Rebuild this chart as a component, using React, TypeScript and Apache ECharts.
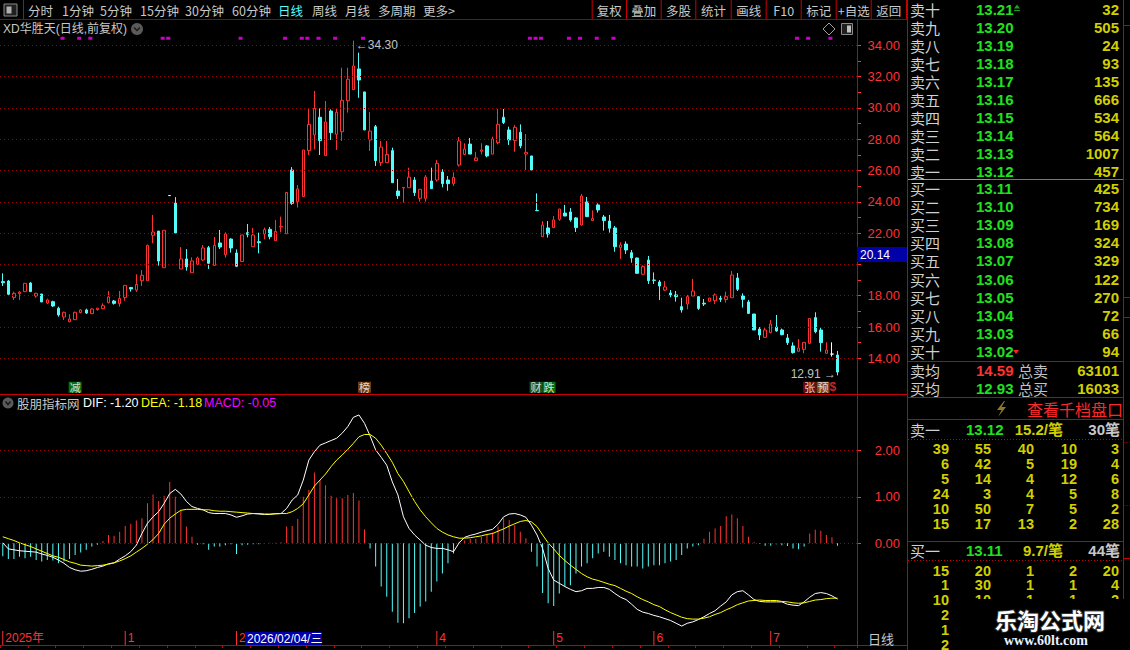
import React, { useEffect, useRef } from "react";
import * as echarts from "echarts";

const NUM = "'Liberation Sans', 'Noto Sans CJK SC', sans-serif";
const CJK = "'Noto Sans CJK SC', 'Liberation Sans', sans-serif";

// ---------- candle data (151 trading days) ----------
const opens = [
  18.90,18.94,17.89,18.13,18.26,18.81,17.98,18.11,17.53,17.62,
  17.20,16.64,16.34,16.47,16.92,17.09,16.85,17.11,17.17,17.55,
  17.66,17.49,17.89,18.53,18.36,18.96,18.96,21.86,22.13,19.79,
  24.40,23.92,19.71,20.35,19.47,20.00,20.28,21.07,19.94,21.37,
  20.62,21.62,20.73,20.18,22.03,21.13,21.45,21.94,22.24,21.52,
  22.39,21.96,26.03,24.01,24.33,27.27,28.27,29.40,26.95,29.80,
  28.31,28.48,30.46,31.17,32.49,31.02,27.95,28.80,26.50,26.50,
  27.27,24.69,24.88,24.90,25.39,24.22,24.22,25.33,25.39,25.90,
  25.39,25.16,26.35,27.03,27.69,26.63,27.23,27.57,27.05,27.78,
  29.40,28.59,27.91,28.44,27.05,26.93,23.45,21.77,22.33,22.35,
  22.88,23.28,23.35,22.97,22.52,23.99,22.80,23.80,23.03,22.77,
  22.33,21.07,21.30,20.75,20.41,19.37,20.28,19.00,18.88,18.36,
  18.17,18.05,17.30,17.47,17.98,17.94,17.52,17.64,17.68,17.83,
  17.75,17.87,19.13,17.98,17.60,16.83,15.87,15.34,15.64,16.00,
  15.81,15.30,14.79,14.45,14.57,14.96,16.60,15.81,14.32,14.27,
  14.21,
];
const closes = [
  18.83,18.09,18.15,18.23,18.79,18.26,18.15,17.60,17.73,17.34,
  16.77,16.94,16.51,16.94,17.09,16.89,17.15,17.21,17.36,17.92,
  17.51,17.83,18.66,18.43,18.72,19.30,21.22,22.07,20.22,22.18,
  24.40,22.01,20.35,19.84,20.22,20.41,21.05,20.07,21.22,21.11,
  21.94,21.05,19.88,21.88,21.92,21.88,21.39,22.22,21.77,22.11,
  22.43,24.60,23.90,24.82,27.31,28.95,29.97,27.91,29.10,28.42,
  29.72,30.48,31.83,32.68,31.78,28.59,28.52,26.63,27.50,27.03,
  25.22,24.39,24.92,25.58,24.58,24.80,25.58,24.84,26.46,25.16,
  25.16,25.56,27.89,27.37,27.05,26.80,27.31,26.93,28.01,28.95,
  29.06,27.95,28.76,27.57,27.16,26.03,23.43,22.52,21.94,22.84,
  23.54,23.09,22.84,22.35,24.37,23.05,22.94,23.48,22.80,22.31,
  21.13,21.24,20.92,20.41,19.43,19.86,18.96,18.98,18.62,18.56,
  18.05,17.94,17.09,17.94,18.30,17.19,17.47,17.85,18.05,17.77,
  17.94,19.32,18.41,17.77,16.87,15.81,15.49,15.81,16.19,15.75,
  15.51,15.00,14.36,14.66,15.02,16.55,15.70,15.00,14.53,14.27,
  13.12,
];
const lows = [
  18.62,18.04,17.73,17.73,18.26,18.24,17.87,17.60,17.47,17.28,
  16.66,16.45,16.30,16.45,16.87,16.83,16.83,17.05,17.13,17.51,
  17.43,17.30,17.68,18.26,18.24,18.62,18.96,21.35,19.92,19.79,
  24.40,22.01,19.71,19.60,19.47,19.98,20.22,19.71,19.90,20.98,
  20.43,20.75,19.83,20.18,21.73,21.13,20.71,21.60,21.60,21.52,
  22.05,21.96,23.80,23.63,24.33,26.99,27.35,26.99,26.95,27.95,
  27.31,27.89,29.70,31.17,30.65,28.59,27.25,26.29,26.29,26.50,
  25.22,24.18,23.95,24.90,24.37,24.01,24.01,24.84,25.29,24.93,
  24.71,25.01,26.25,26.99,27.05,26.63,27.03,26.84,27.05,27.67,
  28.97,27.63,27.20,27.42,26.03,26.03,23.43,21.77,21.71,22.35,
  22.79,23.09,22.73,22.07,22.48,23.05,22.80,23.31,22.16,22.03,
  20.81,20.35,20.67,20.11,19.41,19.32,18.75,18.75,17.72,18.30,
  17.90,17.62,16.92,17.13,17.98,17.09,17.34,17.64,17.47,17.60,
  17.56,17.87,18.30,17.24,16.83,15.81,15.17,15.30,15.60,15.70,
  15.47,14.85,14.30,14.45,14.32,14.90,15.60,14.43,14.32,14.11,
  12.91,
];
const highs = [
  19.43,19.00,18.26,18.30,18.79,18.87,18.19,18.11,17.81,17.68,
  17.30,16.98,16.81,16.98,17.15,17.17,17.20,17.21,17.51,18.30,
  17.73,18.30,18.68,18.53,19.37,19.64,21.26,23.16,22.13,22.18,
  24.40,24.30,21.11,20.98,20.45,20.50,21.24,21.18,21.75,22.20,
  22.05,21.67,20.96,21.88,22.58,22.33,22.03,22.35,22.39,22.84,
  23.05,24.60,26.22,25.07,27.31,29.93,31.08,29.97,30.44,29.91,
  29.97,32.57,32.57,34.30,33.53,31.02,29.74,28.91,27.89,27.89,
  27.46,25.46,24.92,26.18,25.58,24.80,25.71,26.18,26.67,26.08,
  25.65,25.88,28.14,27.74,28.08,27.20,27.74,27.63,28.16,29.93,
  29.93,28.80,28.91,28.95,28.33,26.93,24.54,22.77,22.77,23.09,
  23.54,23.80,23.60,23.03,24.50,24.31,23.45,23.90,23.16,23.16,
  22.45,21.41,21.47,20.92,20.43,19.94,20.54,19.49,19.00,18.94,
  18.36,18.30,17.87,18.05,19.07,17.98,17.79,17.85,18.15,18.00,
  18.26,19.58,19.45,18.15,17.73,16.83,16.00,16.00,16.45,16.77,
  15.90,15.55,15.02,15.23,15.02,16.55,16.94,16.00,15.02,15.02,
  14.47,
];

// ---------- MACD indicator ----------
const dif = [
  0.01,-0.12,-0.14,-0.16,-0.17,-0.18,-0.19,-0.23,-0.26,-0.30,
  -0.36,-0.43,-0.52,-0.57,-0.60,-0.59,-0.56,-0.52,-0.49,-0.44,
  -0.42,-0.34,-0.27,-0.18,-0.04,0.21,0.43,0.57,0.68,0.86,
  1.07,1.16,1.06,0.90,0.79,0.75,0.72,0.66,0.64,0.64,
  0.64,0.61,0.56,0.59,0.63,0.64,0.63,0.62,0.62,0.64,
  0.64,0.75,0.93,1.04,1.36,1.79,1.97,2.11,2.16,2.21,
  2.26,2.37,2.51,2.71,2.76,2.58,2.31,2.01,1.85,1.68,
  1.32,1.04,0.57,0.32,0.18,0.07,-0.04,-0.09,-0.11,-0.11,
  -0.14,-0.18,0.01,0.13,0.17,0.20,0.24,0.27,0.30,0.41,
  0.57,0.63,0.64,0.61,0.56,0.39,0.18,-0.11,-0.54,-0.79,
  -0.86,-0.93,-0.99,-1.04,-1.02,-0.97,-0.97,-0.95,-0.95,-0.99,
  -1.08,-1.16,-1.21,-1.31,-1.42,-1.48,-1.51,-1.55,-1.58,-1.62,
  -1.66,-1.72,-1.78,-1.72,-1.69,-1.64,-1.58,-1.51,-1.45,-1.35,
  -1.26,-1.11,-1.04,-1.02,-1.11,-1.21,-1.25,-1.26,-1.26,-1.26,
  -1.26,-1.31,-1.33,-1.34,-1.26,-1.16,-1.08,-1.06,-1.08,-1.13,
  -1.20,
];
const dea = [
  0.14,0.10,0.06,0.01,-0.03,-0.07,-0.12,-0.17,-0.22,-0.27,
  -0.30,-0.35,-0.40,-0.43,-0.47,-0.48,-0.49,-0.48,-0.47,-0.45,
  -0.42,-0.38,-0.33,-0.27,-0.19,-0.11,-0.02,0.08,0.21,0.41,
  0.54,0.63,0.71,0.73,0.73,0.73,0.72,0.72,0.70,0.69,
  0.69,0.68,0.67,0.66,0.65,0.64,0.64,0.63,0.63,0.63,
  0.64,0.64,0.68,0.75,0.85,1.04,1.23,1.36,1.49,1.65,
  1.79,1.90,2.02,2.15,2.29,2.34,2.34,2.26,2.11,1.93,
  1.74,1.50,1.33,1.11,0.90,0.72,0.57,0.44,0.32,0.24,
  0.18,0.14,0.11,0.11,0.12,0.14,0.16,0.19,0.21,0.26,
  0.31,0.37,0.42,0.47,0.49,0.46,0.36,0.18,0.01,-0.12,
  -0.26,-0.37,-0.47,-0.56,-0.65,-0.72,-0.77,-0.80,-0.84,-0.88,
  -0.91,-0.97,-1.03,-1.08,-1.15,-1.21,-1.26,-1.32,-1.36,-1.43,
  -1.49,-1.54,-1.59,-1.62,-1.63,-1.63,-1.61,-1.58,-1.53,-1.49,
  -1.43,-1.38,-1.32,-1.28,-1.24,-1.23,-1.22,-1.23,-1.23,-1.23,
  -1.25,-1.26,-1.28,-1.29,-1.28,-1.25,-1.22,-1.21,-1.19,-1.18,
  -1.18,
];
const macd = [
  -0.28,-0.34,-0.34,-0.29,-0.32,-0.29,-0.36,-0.39,-0.36,-0.37,
  -0.43,-0.39,-0.34,-0.25,-0.20,-0.14,-0.07,-0.03,0.05,0.18,
  0.16,0.25,0.37,0.42,0.49,0.54,0.86,1.05,0.91,1.02,
  1.32,1.00,0.72,0.36,0.14,-0.03,-0.02,-0.14,-0.07,-0.07,
  -0.04,-0.02,-0.23,-0.04,-0.03,-0.02,-0.02,-0.01,0.01,0.01,
  0.02,0.36,0.37,0.52,1.00,1.15,1.52,1.36,1.25,1.02,
  0.97,0.97,1.04,1.08,0.92,0.30,-0.11,-0.50,-0.93,-1.15,
  -1.47,-1.71,-1.72,-1.61,-1.50,-1.36,-1.25,-1.04,-0.82,-0.65,
  -0.43,-0.22,0.04,0.06,0.09,0.09,0.14,0.18,0.23,0.36,
  0.54,0.50,0.39,0.25,0.11,-0.18,-0.50,-1.07,-1.29,-1.35,
  -1.08,-0.93,-0.90,-0.65,-0.50,-0.43,-0.32,-0.22,-0.18,-0.29,
  -0.36,-0.43,-0.47,-0.50,-0.50,-0.54,-0.50,-0.47,-0.47,-0.43,
  -0.39,-0.36,-0.25,-0.11,-0.07,-0.04,0.10,0.25,0.32,0.37,
  0.58,0.62,0.54,0.37,0.14,0.02,-0.01,-0.05,-0.05,-0.02,
  -0.04,-0.06,-0.11,-0.13,-0.07,0.21,0.29,0.27,0.18,0.13,
  -0.05,
];

// ---------- axes / markers ----------
const SLOTS = 154; // 151 candles + 3 empty slots before the price axis
const categories = Array.from({ length: SLOTS }, (_, i) => "K" + (i + 1));
const priceTicks = [14, 16, 18, 20, 22, 24, 26, 28, 30, 32, 34];
const cursorPrice = 20.14; // price shown in the cursor box, hides the nearby tick label
const macdTicks = [0, 1, 2];
const monthIdx = [0, 22, 42, 78, 99, 117, 138];
const monthText = ["2025年", "1", "2", "4", "5", "6", "7"];
const dotIdx = [11, 14, 16, 29, 30, 43, 51, 54, 55, 57, 60, 65, 95, 96, 97, 102, 104, 107, 110, 143, 145, 149];
const eventIdx = [13, 65, 97, 145, 148];
const eventText = ["{g|减}", "{b|榜}", "{c|财}{g|跌}", "{r|张}", "{o|预}{d|$}"];

// ---------- order book ----------
const askLabels = ["卖十", "卖九", "卖八", "卖七", "卖六", "卖五", "卖四", "卖三", "卖二", "卖一"];
const askPrices = [13.21, 13.2, 13.19, 13.18, 13.17, 13.16, 13.15, 13.14, 13.13, 13.12];
const askVols = [32, 505, 24, 93, 135, 666, 534, 564, 1007, 457];
const bidLabels = ["买一", "买二", "买三", "买四", "买五", "买六", "买七", "买八", "买九", "买十"];
const bidPrices = [13.11, 13.1, 13.09, 13.08, 13.07, 13.06, 13.05, 13.04, 13.03, 13.02];
const bidVols = [425, 734, 169, 324, 329, 122, 270, 72, 66, 94];
const sellQueue = [
  [39, 55, 40, 10, 3],
  [6, 42, 5, 19, 4],
  [5, 14, 4, 12, 6],
  [24, 3, 4, 5, 8],
  [10, 50, 7, 5, 2],
  [15, 17, 13, 2, 28],
];
const buyQueue = [
  [15, 20, 1, 2, 20],
  [1, 30, 1, 1, 4],
  [10, 10, 1, 1, 2],
  [2],
  [1],
  [2],
];
const leftTabs = ["分时", "1分钟", "5分钟", "15分钟", "30分钟", "60分钟", "日线", "周线", "月线", "多周期", "更多>"];
const leftTabX = [28, 62, 100, 140, 185, 232, 278, 312, 345, 378, 423];
const rightTabs = ["复权", "叠加", "多股", "统计", "画线", "F10", "标记", "+自选", "返回"];
const rightSep = [591.7, 626, 660.7, 695.3, 730.7, 765.7, 800.7, 835.7, 870.7, 906];

const RED = "#ff3232";
const CYAN = "#54fcfc";
const BORDER = "#c80000";
const GRID = "#a00000";

function buildGraphic() {
  const g: any[] = [];
  const txt = (x: number, y: number, text: string, fill: string, size: number, o: any = {}) =>
    g.push({
      type: "text", x, y, z: o.z ?? 20, silent: true,
      style: {
        text, fill,
        font: `${o.weight || "normal"} ${size}px ${o.family || NUM}`,
        align: o.align || "left", verticalAlign: "middle",
        textAlign: o.align || "left", textVerticalAlign: "middle",
        stroke: o.stroke, lineWidth: o.lineWidth || 0,
      },
    });
  const ln = (x1: number, y1: number, x2: number, y2: number, stroke: string, dash?: number[], z = 15) =>
    g.push({ type: "line", z, silent: true, shape: { x1, y1, x2, y2 }, style: { stroke, lineWidth: 1, lineDash: dash } });
  const rc = (x: number, y: number, w: number, h: number, fill: string, stroke?: string, z = 12) =>
    g.push({ type: "rect", z, silent: true, shape: { x, y, width: w, height: h }, style: { fill, stroke: stroke || "none", lineWidth: stroke ? 1 : 0 } });

  // ---- toolbar ----
  rc(4, 4, 13, 12, "#202020", "#8a8a8a");
  rc(6.5, 6.5, 5, 7, "#b0b0b0");
  ln(23.5, 0, 23.5, 19, BORDER);
  leftTabs.forEach((t, k) => txt(leftTabX[k], 10, t, t === "日线" ? CYAN : "#c8c8c8", 12.5, { family: CJK }));
  rightSep.forEach((x) => ln(x + 0.5, 0, x + 0.5, 19, BORDER));
  rightTabs.forEach((t, k) => txt((rightSep[k] + rightSep[k + 1]) / 2 + 0.5, 10, t, "#c8c8c8", 12.5, { family: CJK, align: "center" }));
  ln(0, 19.5, 907, 19.5, GRID);

  // ---- title row ----
  txt(3, 29, "XD华胜天(日线,前复权)", "#c8c8c8", 12);
  g.push({ type: "circle", z: 20, silent: true, shape: { cx: 137, cy: 29, r: 6 }, style: { fill: "#5a5a5a" } });
  g.push({ type: "polyline", z: 21, silent: true, shape: { points: [[134, 27.5], [137, 30.5], [140, 27.5]] }, style: { stroke: "#1a1a1a", lineWidth: 1.5, fill: "none" } });
  g.push({ type: "polygon", z: 20, silent: true, shape: { points: [[829, 23], [835, 29], [829, 35], [823, 29]] }, style: { stroke: "#a0a0a0", fill: "none", lineWidth: 1 } });
  rc(841.5, 23.5, 11, 11, "#202020", "#8a8a8a");
  rc(847, 25.5, 4, 7, "#c0c0c0");

  // ---- panel borders ----
  ln(857.5, 19.5, 857.5, 646, BORDER);
  ln(0, 394.5, 907, 394.5, BORDER);
  ln(0, 645.5, 907, 645.5, BORDER);

  // price cursor box
  rc(857, 247, 50, 15, "#0000a8", undefined, 25);
  txt(860, 254.5, cursorPrice.toFixed(2), "#ffffff", 12, { z: 26 });

  // ---- MACD title ----
  g.push({ type: "circle", z: 20, silent: true, shape: { cx: 8, cy: 403, r: 5.5 }, style: { fill: "#5a5a5a" } });
  g.push({ type: "polyline", z: 21, silent: true, shape: { points: [[5.5, 401.5], [8, 404.5], [10.5, 401.5]] }, style: { stroke: "#1a1a1a", lineWidth: 1.5, fill: "none" } });
  txt(17, 403, "股朋指标网", "#c8c8c8", 12.5, { family: CJK });
  txt(83, 403, "DIF: " + dif[dif.length - 1].toFixed(2), "#ffffff", 12.5);
  txt(141, 403, "DEA: " + dea[dea.length - 1].toFixed(2), "#ffff00", 12.5);
  txt(204, 403, "MACD: " + macd[macd.length - 1].toFixed(2), "#ff00ff", 12.5);

  // ---- date bar ----
  rc(245, 632, 77, 13, "#0000a8", undefined, 25);
  txt(247, 638.5, "2026/02/04/三", "#ffffff", 12, { z: 26 });
  txt(868, 638.5, "日线", "#c8c8c8", 13, { family: CJK });

  // ---- right panel ----
  ln(907.5, 0, 907.5, 650, BORDER);
  ln(1123.5, 0, 1123.5, 650, BORDER);
  ln(1123.5, 25.5, 1130, 25.5, BORDER);
  ln(1123.5, 297.5, 1130, 297.5, BORDER);
  ln(1123.5, 317.5, 1130, 317.5, BORDER);
  ln(1123.5, 442.5, 1130, 442.5, BORDER, [1, 2]);
  ln(1123.5, 505.5, 1130, 505.5, BORDER, [1, 2]);
  ln(1123.5, 558.5, 1130, 558.5, BORDER);

  askLabels.forEach((lab, k) => {
    const y = 9 + k * 18.03;
    txt(910, y, lab, "#d0d0d0", 15, { family: CJK });
    txt(976, y, askPrices[k].toFixed(2), "#20e020", 15, { weight: "bold" });
    txt(1119, y, String(askVols[k]), "#d0d000", 15, { weight: "bold", align: "right" });
  });
  g.push({ type: "polygon", z: 20, silent: true, shape: { points: [[1014, 8.5], [1017, 4.5], [1020, 8.5]] }, style: { fill: "#20a020" } });
  ln(1014, 10.5, 1020, 10.5, "#20a020");
  ln(908, 179.5, 990, 179.5, "#d09040", undefined, 16);
  ln(990, 179.5, 1123, 179.5, "#4a80c0", undefined, 16);
  bidLabels.forEach((lab, k) => {
    const y = 188.3 + k * 18.15;
    txt(910, y, lab, "#d0d0d0", 15, { family: CJK });
    txt(976, y, bidPrices[k].toFixed(2), "#20e020", 15, { weight: "bold" });
    txt(1119, y, String(bidVols[k]), "#d0d000", 15, { weight: "bold", align: "right" });
  });
  g.push({ type: "polygon", z: 20, silent: true, shape: { points: [[1013, 350], [1019, 350], [1016, 354]] }, style: { fill: "#ff2020" } });
  ln(908, 361.5, 1123, 361.5, BORDER);
  txt(910, 370.5, "卖均", "#d0d0d0", 15, { family: CJK });
  txt(976, 370.5, "14.59", "#ff3232", 15, { weight: "bold" });
  txt(1018, 370.5, "总卖", "#c0c0c0", 15, { family: CJK });
  txt(1119, 370.5, "63101", "#d0d000", 15, { weight: "bold", align: "right" });
  txt(910, 388.5, "买均", "#d0d0d0", 15, { family: CJK });
  txt(976, 388.5, "12.93", "#20e020", 15, { weight: "bold" });
  txt(1018, 388.5, "总买", "#c0c0c0", 15, { family: CJK });
  txt(1119, 388.5, "16033", "#d0d000", 15, { weight: "bold", align: "right" });
  ln(908, 397.5, 1123, 397.5, BORDER);
  g.push({ type: "polygon", z: 20, silent: true, shape: { points: [[1004, 401], [997, 410], [1001.5, 410], [998, 417], [1006, 407], [1001.5, 407], [1005, 401]] }, style: { fill: "#8c7a2a" } });
  txt(1027, 409, "查看千档盘口", "#ff2828", 16, { family: CJK });
  ln(908, 419.5, 1123, 419.5, BORDER);

  const qCols = [949, 991, 1034, 1077, 1119];
  txt(910, 429, "卖一", "#d0d0d0", 15, { family: CJK });
  txt(966, 429, "13.12", "#20e020", 15, { weight: "bold" });
  txt(1063, 429, "15.2/笔", "#d0d000", 15, { weight: "bold", align: "right" });
  txt(1120, 429, "30笔", "#c8c8c8", 15, { weight: "bold", align: "right" });
  ln(908, 439.5, 1123, 439.5, BORDER, [1, 2]);
  sellQueue.forEach((row, r) => row.forEach((v, c) => txt(qCols[c], 448.5 + r * 15, String(v), "#d0d000", 14.5, { weight: "bold", align: "right" })));
  ln(908, 541.5, 1123, 541.5, BORDER);
  txt(910, 550, "买一", "#d0d0d0", 15, { family: CJK });
  txt(966, 550, "13.11", "#20e020", 15, { weight: "bold" });
  txt(1063, 550, "9.7/笔", "#d0d000", 15, { weight: "bold", align: "right" });
  txt(1120, 550, "44笔", "#c8c8c8", 15, { weight: "bold", align: "right" });
  ln(908, 560.5, 1123, 560.5, BORDER, [1, 2]);
  buyQueue.forEach((row, r) => row.forEach((v, c) => txt(qCols[c], 570.5 + r * 14.8, String(v), "#d0d000", 14.5, { weight: "bold", align: "right" })));

  // watermark
  rc(962, 599, 168, 51, "#000000", undefined, 30);
  txt(1050, 619, "乐淘公式网", "#ffffff", 22, { family: CJK, weight: "bold", align: "center", z: 31, stroke: "#303030", lineWidth: 2 });
  txt(1046, 640.5, "www.60lt.com", "#e8f0ff", 14, { family: "'Liberation Serif', 'DejaVu Serif', serif", weight: "bold", align: "center", z: 31 });

  return g;
}

function buildOption() {
  const candleData = opens.map((o, i) => [o, closes[i], lows[i], highs[i]]);
  const hiIdx = highs.indexOf(Math.max(...highs));
  const loIdx = lows.indexOf(Math.min(...lows));
  const priceMinor = priceTicks.flatMap((v) => (v < 34 ? [v, v + 1] : [v]));
  const priceLabels = priceTicks.filter((v) => Math.abs(v - cursorPrice) > 1);
  const monthBars = categories.map((_, i) => (monthIdx.includes(i) ? 1 : null));
  const dashed = { color: GRID, type: [1, 3], width: 1 };
  const chip = (bg: string) => ({ backgroundColor: bg, color: "#ffffff", fontSize: 11, lineHeight: 13, padding: [0, 1, 0, 1], fontFamily: CJK });

  return {
    animation: false,
    backgroundColor: "#000000",
    grid: [
      { left: 0, top: 14, width: 857, height: 406.9 },
      { left: 0, top: 403.8, width: 857, height: 232.5 },
      { left: 0, top: 631, width: 857, height: 14 },
    ],
    xAxis: [
      { type: "category", gridIndex: 0, data: categories, show: false },
      { type: "category", gridIndex: 1, data: categories, show: false },
      {
        type: "category", gridIndex: 2, data: categories, position: "top",
        axisLine: { show: true, lineStyle: { color: BORDER } },
        axisTick: { show: true, interval: 4, inside: true, length: 3, lineStyle: { color: BORDER } },
        axisLabel: { show: false }, splitLine: { show: false },
      },
    ],
    yAxis: [
      {
        type: "value", gridIndex: 0, position: "right", min: 10, max: 36, interval: 2, scale: false,
        axisLine: { show: false },
        axisTick: { show: true, length: 4, lineStyle: { color: RED }, customValues: priceMinor },
        axisLabel: {
          color: RED, fontSize: 13, fontFamily: NUM, align: "right", margin: 43, customValues: priceLabels,
          formatter: (v: number) => (priceLabels.includes(v) ? v.toFixed(2) : ""),
        },
        splitLine: { show: false },
      },
      {
        type: "value", gridIndex: 1, position: "right", min: -2, max: 3, interval: 1,
        axisLine: { show: false },
        axisTick: { show: true, length: 4, lineStyle: { color: RED }, customValues: macdTicks },
        axisLabel: {
          color: RED, fontSize: 13, fontFamily: NUM, align: "right", margin: 43, customValues: macdTicks,
          formatter: (v: number) => (v >= 0 && v <= 2 ? v.toFixed(2) : ""),
        },
        splitLine: { show: false },
      },
      { type: "value", gridIndex: 2, min: 0, max: 1, show: false },
    ],
    series: [
      {
        type: "candlestick", xAxisIndex: 0, yAxisIndex: 0, data: candleData, barWidth: 3,
        itemStyle: { color: "#000000", color0: CYAN, borderColor: RED, borderColor0: CYAN, borderColorDoji: "#ffffff", borderWidth: 1 },
        emphasis: { disabled: true },
        markLine: {
          silent: true, symbol: ["none", "none"], label: { show: false }, lineStyle: dashed,
          emphasis: { disabled: true },
          data: priceTicks.map((v) => ({ yAxis: v })),
        },
        markPoint: {
          symbol: "circle", symbolSize: 1, itemStyle: { color: "transparent" }, silent: true,
          data: [
            {
              coord: [hiIdx, highs[hiIdx]], value: highs[hiIdx],
              label: { show: true, position: "right", distance: 2, offset: [0, 4], color: "#c0c0c0", fontSize: 12, fontFamily: NUM, formatter: "←" + highs[hiIdx].toFixed(2) },
            },
            {
              coord: [loIdx, lows[loIdx]], value: lows[loIdx],
              label: { show: true, position: "left", distance: 1, offset: [0, -1], color: "#c0c0c0", fontSize: 12, fontFamily: NUM, formatter: lows[loIdx].toFixed(2) + " →" },
            },
          ],
        },
      },
      {
        type: "scatter", xAxisIndex: 0, yAxisIndex: 0, symbol: "rect", symbolSize: [4, 3], symbolOffset: [-1.5, 0],
        itemStyle: { color: "#ff00ff" }, silent: true,
        data: dotIdx.map((i) => [i, 34.45]),
      },
      {
        type: "scatter", xAxisIndex: 0, yAxisIndex: 0, symbol: "rect", symbolSize: 1,
        itemStyle: { color: "transparent" }, silent: true,
        data: eventIdx.map((i, k) => ({
          value: [i, 12.15],
          label: { show: true, position: "inside", formatter: eventText[k] },
        })),
        label: {
          show: true, position: "inside",
          rich: {
            g: chip("#0d8a0d"), b: chip("#8a4a14"), c: chip("#1d6a2a"), r: chip("#8a1010"), o: chip("#b0581a"),
            d: { color: "#ff3030", fontSize: 12, fontWeight: "bold", lineHeight: 13, fontFamily: NUM },
          },
        },
      },
      {
        type: "bar", xAxisIndex: 1, yAxisIndex: 1, data: macd, barWidth: 1, silent: true,
        itemStyle: { color: (p: any) => (p.value >= 0 ? RED : CYAN) },
        markLine: {
          silent: true, symbol: ["none", "none"], label: { show: false }, lineStyle: dashed,
          emphasis: { disabled: true },
          data: macdTicks.map((v) => ({ yAxis: v })),
        },
      },
      {
        type: "line", xAxisIndex: 1, yAxisIndex: 1, data: dif, symbol: "none", silent: true,
        lineStyle: { color: "#ffffff", width: 1 },
      },
      {
        type: "line", xAxisIndex: 1, yAxisIndex: 1, data: dea, symbol: "none", silent: true,
        lineStyle: { color: "#ffff00", width: 1 },
      },
      {
        type: "bar", xAxisIndex: 2, yAxisIndex: 2, data: monthBars, barWidth: 1, silent: true,
        itemStyle: { color: RED },
        label: {
          show: true, position: "right", distance: 2, color: RED, fontSize: 12, fontFamily: NUM,
          formatter: (p: any) => monthText[monthIdx.indexOf(p.dataIndex)] || "",
        },
      },
    ],
    graphic: { elements: buildGraphic() },
  };
}

export default function App() {
  const ref = useRef<HTMLDivElement>(null);
  useEffect(() => {
    document.body.style.margin = "0";
    document.body.style.background = "#000";
    const chart = echarts.init(ref.current as HTMLDivElement, null, { renderer: "svg", width: 1130, height: 650 });
    chart.setOption(buildOption() as any);
    return () => chart.dispose();
  }, []);
  return <div ref={ref} style={{ width: 1130, height: 650, background: "#000", overflow: "hidden" }} />;
}
